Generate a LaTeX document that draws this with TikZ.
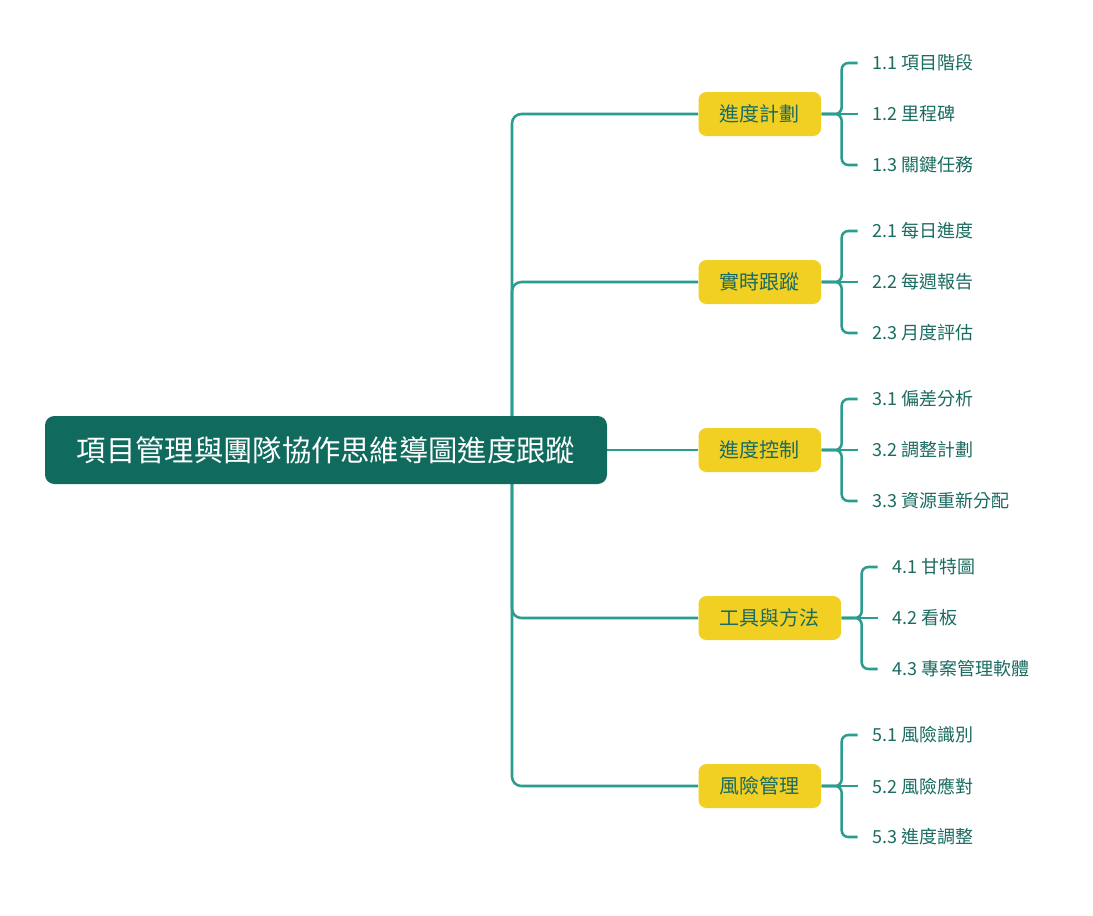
\documentclass[tikz,border=0pt]{standalone}
\usepackage{fontspec}
\setmainfont{Noto Sans CJK TC}
\definecolor{rootcol}{HTML}{106B5E}
\definecolor{linecol}{HTML}{2A9D8F}
\definecolor{brcol}{HTML}{F2CF23}
\definecolor{txtcol}{HTML}{1A6B60}
\tikzset{every picture/.style={line width=0.75pt},
  rootbox/.style={fill=rootcol,text=white,rounded corners=7pt,minimum width=421.5pt,minimum height=51pt,font=\fontsize{22}{24}\selectfont},
  branchbox/.style={fill=brcol,text=txtcol,rounded corners=6pt,minimum height=33pt,inner xsep=16pt,font=\fontsize{15}{17}\selectfont},
  leafbox/.style={text=txtcol,inner xsep=11pt,inner ysep=2pt,anchor=west,font=\fontsize{13.5}{15}\selectfont},
  link/.style={draw=linecol,line width=1.9pt,rounded corners=7pt}}
\begin{document}
\begin{tikzpicture}[x=0.75pt,y=0.75pt,yscale=-1,xscale=1]
\useasboundingbox (0,0) rectangle (1093,915);
\coordinate (trunk) at (512,450);
% branches
\node[branchbox,anchor=west] (b1) at (698,114) {進度計劃};
\node[branchbox,anchor=west] (b2) at (698,282) {實時跟蹤};
\node[branchbox,anchor=west] (b3) at (698,450) {進度控制};
\node[branchbox,anchor=west] (b4) at (698,618) {工具與方法};
\node[branchbox,anchor=west] (b5) at (698,786) {風險管理};
\draw[link] (trunk) -- (b3.west);
\foreach \b in {b1,b2,b4,b5}
  \draw[link] (\b.west) -- (\b.west -| trunk) -- (trunk);
% root
\node[rootbox] (root) at (326,450) {項目管理與團隊協作思維導圖進度跟蹤};
% leaves
\foreach \b/\la/\lb/\lc/\n in {b1/項目階段/里程碑/關鍵任務/1,b2/每日進度/每週報告/月度評估/2,b3/偏差分析/調整計劃/資源重新分配/3,b4/甘特圖/看板/專案管理軟體/4,b5/風險識別/風險應對/進度調整/5}{
  \node[leafbox] (\b a) at ([xshift=27pt,yshift=-38.25pt]\b.east) {\n.1 \la};
  \node[leafbox] (\b b) at ([xshift=27pt]\b.east) {\n.2 \lb};
  \node[leafbox] (\b c) at ([xshift=27pt,yshift=38.25pt]\b.east) {\n.3 \lc};
  \draw[link,rounded corners=5pt] (\b.east) -- ++(20,0) |- (\b a.west);
  \draw[link,rounded corners=5pt] (\b.east) -- ++(20,0) |- (\b c.west);
  \draw[link] (\b.east) -- (\b b.west);
}
\end{tikzpicture}
\end{document}
